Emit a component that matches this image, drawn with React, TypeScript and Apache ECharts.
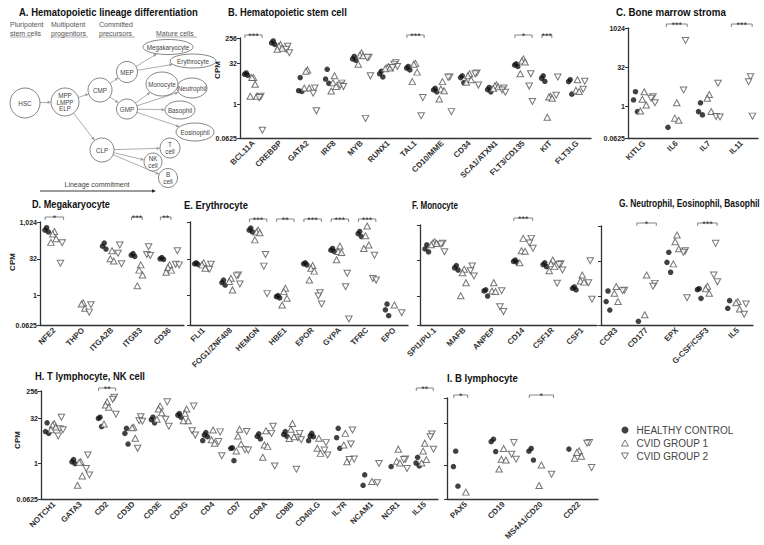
import React, { useEffect, useRef } from "react";
import * as echarts from "echarts";

const FONT = 'Arial, "Liberation Sans", Helvetica, sans-serif';
const GROUP_NAMES = ["HEALTHY CONTROL", "CVID GROUP 1", "CVID GROUP 2"];

// ---------- B. Hematopoietic stem cell ----------
const bCats = ["BCL11A", "CREBBP", "GATA2", "IRF8", "MYB", "RUNX1", "TAL1", "CD10/MME", "CD34", "SCA1/ATXN1", "FLT3/CD135", "KIT", "FLT3LG"];
const bHealthy = [[14, 12.5, 11.5], [200, 170, 150], [9.5, 3.2, 3.0], [19, 8.4, 5.9], [55, 45, 40], [16, 13, 10], [24, 21, 18], [3.9, 3.4, 2.9], [11, 9.5, 6.2], [4.2, 3.5, 2.9], [30, 27, 24], [11, 9, 7], [8, 6.8, 2.4]];
const bGroup1 = [[9.5, 9.5, 5.5, 2, 2], [150, 130, 110, 100], [18, 16, 4, 4], [11, 6.2, 4.5, 3.1], [75, 62, 58, 29], [24, 22, 21, 20], [31, 29, 15, 6.8], [6.8, 3.7, 3.2, 1.6], [13, 11, 8, 6.5], [5.2, 4.8, 4.4, 3.8], [45, 38, 35, 13], [2, 1.9, 1.7, 0.35], [8, 3.3, 3]];
const bGroup2 = [[2, 1.8, 0.12], [130, 100, 75], [4, 2.6, 0.6], [6, 5, 4.5], [52, 50, 11, 0.32], [33, 29, 24, 22], [1.8, 0.4], [10, 9.7, 0.56], [14, 13, 5.1], [4, 3.4, 2.8], [13, 4.7, 1.3], [10, 2.2], [7, 3.6]];
const bSig = [{ cat: "BCL11A", stars: "***", from: 0, to: 2 }, { cat: "TAL1", stars: "***", from: 0, to: 2 }, { cat: "FLT3/CD135", stars: "*", from: 0, to: 2 }, { cat: "KIT", stars: "***", from: 0, to: 1 }];

// ---------- C. Bone marrow stroma ----------
const cCats = ["KITLG", "IL6", "IL7", "IL11"];
const cHealthy = [[3.7, 1.8, 0.64], [0.16], [1.4, 0.64, 0.48], []];
const cGroup1 = [[3.7, 1.9, 1.15, 0.68], [1.4, 0.36, 0.3], [2.9, 2.1, 0.65], []];
const cGroup2 = [[2.4, 2.1, 1.4], [340, 4.3], [7.8, 0.42, 0.4], [14, 9, 0.43]];
const cSig = [{ cat: "IL6", stars: "***", from: 0, to: 2 }, { cat: "IL11", stars: "***", from: 0, to: 2 }];

// ---------- D. Megakaryocyte ----------
const dCats = ["NFE2", "THPO", "ITGA2B", "ITGB3", "CD36"];
const dHealthy = [[600, 480, 400], [], [140, 105, 80], [52, 45, 40], [36, 32, 30]];
const dGroup1 = [[420, 330, 210, 150], [0.5, 0.45, 0.3], [68, 32, 26], [18, 11, 7, 2.5], [18, 14, 11, 9]];
const dGroup2 = [[145, 21], [0.42, 0.21], [117, 54, 20], [100, 48, 44], [68, 19, 18]];
const dSig = [{ cat: "NFE2", stars: "*", from: 0, to: 2 }, { cat: "ITGB3", stars: "***", from: 0, to: 1 }, { cat: "CD36", stars: "**", from: 0, to: 1 }];

// ---------- E. Erythrocyte ----------
const eCats = ["FLI1", "FOG1/ZNF408", "HEMGN", "HBE1", "EPOR", "GYPA", "TFRC", "EPO"];
const eHealthy = [[22, 20, 19], [4.3, 3.4, 2.7], [580, 480, 400], [1.0, 0.9, 0.8], [22, 20, 18], [85, 72, 64], [420, 340, 260], [0.45, 0.26, 0.15]];
const eGroup1 = [[22, 18, 13], [5.1, 3.8, 1.7], [480, 400, 370, 190], [2.0, 1.45, 0.77, 0.41], [17, 13, 10, 4.3], [107, 64, 58, 29], [700, 280, 117, 85], [0.41]];
const eGroup2 = [[19, 12], [7, 6.4, 3], [48, 16, 1.2], [], [1.3, 0.97, 0.45], [8.2, 2.3, 0.11], [45, 5, 4.3], [0.2]];
const eSig = [{ cat: "HEMGN", stars: "***", from: 0, to: 2 }, { cat: "HBE1", stars: "**", from: 0, to: 2 }, { cat: "EPOR", stars: "***", from: 0, to: 2 }, { cat: "GYPA", stars: "***", from: 0, to: 2 }, { cat: "TFRC", stars: "***", from: 0, to: 2 }];

// ---------- F. Monocyte ----------
const fCats = ["SPI1/PU.1", "MAFB", "ANPEP", "CD14", "CSF1R", "CSF1"];
const fHealthy = [[150, 100, 75], [20, 16, 13], [1.9, 1.7, 1.04], [34, 30, 27], [26, 22, 18], [2.5, 2.2, 1.9]];
const fGroup1 = [[200, 180, 170, 150], [14, 10, 3.8, 1.07], [3.8, 1.7, 1.6], [280, 84, 80, 26], [34, 24, 18, 12], [8, 4.5, 4]];
const fGroup2 = [[175, 160, 77], [19, 12, 7.3], [1.75, 0.37, 0.23], [280, 180, 107], [24, 22, 13, 3.6], [32, 3.8, 0.76]];
const fSig = [{ cat: "CD14", stars: "***", from: 0, to: 2 }];

// ---------- G. Neutrophil, Eosinophil, Basophil ----------
const gCats = ["CCR3", "CD177", "EPX", "G-CSF/CSF3", "IL5"];
const gHealthy = [[1.75, 0.62, 0.27], [0.09], [78, 29, 11], [2.2, 2.0, 0.85], [0.68, 0.32]];
const gGroup1 = [[2.7, 1.4, 0.62], [8.4, 0.17], [425, 220, 110, 25], [2.8, 2.2, 1.4], [0.62, 0.55, 0.3]];
const gGroup2 = [[1.9, 1.8], [3.7, 2.8], [90, 78, 0.9], [187, 8.4, 4.3], [0.49, 0.18]];
const gSig = [{ cat: "CD177", stars: "*", from: 0, to: 2 }, { cat: "G-CSF/CSF3", stars: "***", from: 0, to: 2 }];

// ---------- H. T lymphocyte, NK cell ----------
const hCats = ["NOTCH1", "GATA3", "CD2", "CD3D", "CD3E", "CD3G", "CD4", "CD7", "CD8A", "CD8B", "CD40LG", "IL7R", "NCAM1", "NCR1", "IL15"];
const hHealthy = [[22, 11.3, 9.8], [1.3, 1.1, 0.95], [34, 31, 16.5], [14.4, 9.8, 4.3], [34, 28, 22], [45, 40, 34], [10.4, 8.6, 7.6, 5.6], [3.2, 3.1, 1.2], [9.5, 7.8, 6.4], [11.3, 9, 7.8], [9.8, 8, 7.6, 5.6], [14.4, 7, 3.1], [0.4, 0.18], [0.76], [1.55, 1.0, 0.8]];
const hGroup1 = [[21, 18.6, 16, 13], [1.1, 1.05, 0.37, 0.18], [111, 87, 73, 20], [15.6, 15, 6.7], [80, 64, 48, 29], [64, 46, 26, 26], [12.7, 6, 4.6], [13.4, 8, 4.3, 2.5], [12, 4, 3.6, 1.55], [21, 13.4, 7.6, 6.6], [6.7, 3.1, 2.1], [9.8, 4, 1.1], [0.24], [2.9, 1.15, 1.0], [4.6, 2.5, 1.3, 1.0]];
const hGroup2 = [[34, 14, 13, 8], [1.85, 0.66, 0.4], [158, 135, 43], [35, 26, 25, 3.1], [111, 29, 17], [80, 12, 8.6], [11, 5.2, 1.76], [11.3, 2.8, 2.7], [17, 9.8, 0.8], [9.8, 7, 6, 0.62], [4.8, 2.7, 1.85], [12.7, 4.3, 1.35, 1.3], [0.97, 0.22], [1.35, 1.3, 0.66], [9.3, 7.6, 2.9]];
const hSig = [{ cat: "CD2", stars: "**", from: 0, to: 2 }, { cat: "IL15", stars: "**", from: 0, to: 2 }];

// ---------- I. B lymphocyte ----------
const iCats = ["PAX5", "CD19", "MS4A1/CD20", "CD22"];
const iHealthy = [[3.2, 0.9, 0.18], [8.6, 7, 3.1], [4, 3.2, 1.55], [3.8]];
const iGroup1 = [[0.11], [4, 1.65, 1.55, 0.74], [1.03, 0.19], [3.3, 2.9, 2.1, 1.8]];
const iGroup2 = [[], [6.5, 2.5, 1.65], [0.48], [6.5, 6.2, 0.83]];
const iSig = [{ cat: "PAX5", stars: "*", from: 0, to: 1 }, { cat: "MS4A1/CD20", stars: "*", from: 0, to: 2 }];

// ---------- axis ticks ----------
const ticks256 = [0.0625, 1, 32, 256];
const ticks1024 = [0.0625, 1, 32, 1024];
const labels256 = ["0.0625", "1", "32", "256"];
const labels1024 = ["0.0625", "1", "32", "1024"];
const labels1024c = ["0.0625", "1", "32", "1,024"];

// ---------- layout ----------
const AXIS = "#333";
const GROUP_OFFSET = [-0.27, 0, 0.27];
const JITTER = [0, -0.06, 0.06, -0.12, 0.12];
const TRI_DOWN = "path://M0,0L10,0L5,8.7Z";
const TRI_UP = "path://M5,0L10,8.7L0,8.7Z";

const PANELS = [
  { cats: bCats, groups: [bHealthy, bGroup1, bGroup2], sig: bSig, box: [240, 38, 351, 100], ticks: ticks256, labels: labels256, lift: 3 },
  { cats: cCats, groups: [cHealthy, cGroup1, cGroup2], sig: cSig, box: [628, 28, 130, 110], ticks: ticks1024, labels: labels1024, lift: 4 },
  { cats: dCats, groups: [dHealthy, dGroup1, dGroup2], sig: dSig, box: [40, 222, 144, 103], ticks: ticks1024, labels: labels1024c, lift: 5 },
  { cats: eCats, groups: [eHealthy, eGroup1, eGroup2], sig: eSig, box: [190, 222, 218, 103], ticks: ticks1024, labels: null, lift: 3 },
  { cats: fCats, groups: [fHealthy, fGroup1, fGroup2], sig: fSig, box: [420, 225, 177, 100], ticks: ticks1024, labels: null, lift: 7 },
  { cats: gCats, groups: [gHealthy, gGroup1, gGroup2], sig: gSig, box: [601, 226, 152, 99], ticks: ticks1024, labels: null, lift: 3 },
  { cats: hCats, groups: [hHealthy, hGroup1, hGroup2], sig: hSig, box: [41, 391, 397, 108], ticks: ticks256, labels: labels256, lift: 3 },
  { cats: iCats, groups: [iHealthy, iGroup1, iGroup2], sig: iSig, box: [447, 398, 151, 101], ticks: ticks256, labels: null, lift: 3 },
];

const HOLLOW = { color: "#fff", borderColor: "#555", borderWidth: 1 };
const SYMBOLS: any[] = [
  { symbol: "circle", symbolSize: 5.5, itemStyle: { color: "#111" } },
  { symbol: TRI_UP, symbolSize: [6.5, 6], itemStyle: HOLLOW },
  { symbol: TRI_DOWN, symbolSize: [6.5, 6], itemStyle: HOLLOW },
];
const LEGEND_ITEMS = [
  { name: GROUP_NAMES[0], icon: "circle", itemStyle: { color: "#111", borderWidth: 0 } },
  { name: GROUP_NAMES[1], icon: TRI_UP, itemStyle: HOLLOW },
  { name: GROUP_NAMES[2], icon: TRI_DOWN, itemStyle: HOLLOW },
];

const TITLES = [
  { text: "A. Hematopoietic lineage differentiation", x: 19, y: 12, w: 179 },
  { text: "B. Hematopoietic stem cell", x: 228, y: 12, w: 119 },
  { text: "C. Bone marrow stroma", x: 616, y: 12, w: 110 },
  { text: "D. Megakaryocyte", x: 32, y: 204, w: 78 },
  { text: "E. Erythrocyte", x: 184, y: 205, w: 64 },
  { text: "F. Monocyte", x: 412, y: 205, w: 46 },
  { text: "G. Neutrophil, Eosinophil, Basophil", x: 619, y: 203, w: 141 },
  { text: "H. T lymphocyte, NK cell", x: 35, y: 376, w: 110 },
  { text: "I. B lymphocyte", x: 447, y: 378, w: 71 },
];
const CPM_LABELS = [
  { x: 217, y: 70 },
  { x: 12, y: 262 },
  { x: 17, y: 440 },
];

// ---------- panel A diagram ----------
const NODES: Record<string, any> = {
  HSC: { x: 25, y: 103, rx: 15, ry: 15, label: "HSC" },
  MPP: { x: 65, y: 102, rx: 14, ry: 14, label: "MPP\nLMPP\nELP" },
  CMP: { x: 100, y: 90, rx: 12, ry: 12, label: "CMP" },
  MEP: { x: 127, y: 72, rx: 10.5, ry: 10.5, label: "MEP" },
  GMP: { x: 127, y: 109, rx: 10.5, ry: 10, label: "GMP" },
  CLP: { x: 102, y: 150, rx: 12, ry: 12, label: "CLP" },
  MEG: { x: 168, y: 47, rx: 25, ry: 7.5, label: "Megakaryocyte" },
  ERY: { x: 193, y: 61, rx: 23, ry: 7, label: "Erythrocyte" },
  NEU: { x: 192, y: 88, rx: 15, ry: 10, label: "Neutrophil" },
  MONO: { x: 162, y: 84, rx: 16, ry: 12, label: "Monocyte" },
  BASO: { x: 180, y: 110, rx: 15, ry: 9, label: "Basophil" },
  EOS: { x: 195, y: 132, rx: 19, ry: 9, label: "Eosinophil" },
  T: { x: 170, y: 148, rx: 10, ry: 10, label: "T\ncell" },
  NK: { x: 153, y: 162, rx: 9, ry: 9, label: "NK\ncell" },
  B: { x: 168, y: 178, rx: 9.5, ry: 9.5, label: "B\ncell" },
};
const EDGES = [["HSC", "MPP"], ["MPP", "CMP"], ["MPP", "CLP"], ["CMP", "MEP"], ["CMP", "GMP"], ["MEP", "MEG"], ["MEP", "ERY"], ["GMP", "MONO"], ["GMP", "NEU"], ["GMP", "BASO"], ["GMP", "EOS"], ["CLP", "T"], ["CLP", "NK"], ["CLP", "B"]];
const HEADINGS = [
  { l1: "Pluripotent", l2: "stem cells", x: 10, w: 22 },
  { l1: "Multipotent", l2: "progenitors", x: 51, w: 37 },
  { l1: "Committed", l2: "precursors", x: 99, w: 36 },
  { l1: "", l2: "Mature cells", x: 156, w: 41 },
];

function fitScale(text: string, font: string, target: number) {
  const ctx = document.createElement("canvas").getContext("2d");
  if (!ctx) return 1;
  ctx.font = font;
  const w = ctx.measureText(text).width;
  return w > 0 ? target / w : 1;
}

function edgePoint(n: any, dx: number, dy: number) {
  const t = 1 / Math.sqrt((dx / n.rx) ** 2 + (dy / n.ry) ** 2);
  return [n.x + dx * t, n.y + dy * t];
}

function arrow(p0: number[], p1: number[], color: string, width: number, head = 4, half = 1.8) {
  const dx = p1[0] - p0[0], dy = p1[1] - p0[1];
  const len = Math.sqrt(dx * dx + dy * dy);
  const ux = dx / len, uy = dy / len;
  const bx = p1[0] - ux * head, by = p1[1] - uy * head;
  return [
    { type: "line", shape: { x1: p0[0], y1: p0[1], x2: bx, y2: by }, style: { stroke: color, lineWidth: width }, silent: true },
    { type: "polygon", shape: { points: [p1, [bx - uy * half, by + ux * half], [bx + uy * half, by - ux * half]] }, style: { fill: color }, silent: true },
  ];
}

function buildGraphic() {
  const g: any[] = [];
  const titleFont = "bold 11px Arial, 'Liberation Sans', sans-serif";
  TITLES.forEach((t) => {
    g.push({ type: "text", x: t.x, y: t.y, scaleX: fitScale(t.text, titleFont, t.w), silent: true,
      style: { text: t.text, x: 0, y: 0, align: "left", verticalAlign: "middle", font: titleFont, fill: "#111" } });
  });
  CPM_LABELS.forEach((c) => {
    g.push({ type: "text", x: c.x, y: c.y, rotation: Math.PI / 2, silent: true,
      style: { text: "CPM", x: 0, y: 0, align: "center", verticalAlign: "middle", fontSize: 8, fontFamily: FONT, fontWeight: "bold", fill: "#222" } });
  });
  HEADINGS.forEach((h) => {
    if (h.l1) g.push({ type: "text", x: h.x, y: 24, silent: true, style: { text: h.l1, align: "left", verticalAlign: "middle", fontSize: 7, fontFamily: FONT, fill: "#555" } });
    g.push({ type: "text", x: h.x, y: 33, silent: true, style: { text: h.l2, align: "left", verticalAlign: "middle", fontSize: 7, fontFamily: FONT, fill: "#555" } });
    g.push({ type: "line", shape: { x1: h.x, y1: 37, x2: h.x + h.w, y2: 37 }, style: { stroke: "#777", lineWidth: 0.6 }, silent: true });
  });
  EDGES.forEach(([s, d]) => {
    const a = NODES[s], b = NODES[d];
    const dx = b.x - a.x, dy = b.y - a.y;
    const p0 = edgePoint(a, dx, dy);
    const p1 = edgePoint(b, -dx, -dy);
    g.push(...arrow(p0, p1, "#999", 0.8, 3.5, 1.6));
  });
  Object.keys(NODES).forEach((k) => {
    const n = NODES[k];
    g.push({ type: "ellipse", shape: { cx: n.x, cy: n.y, rx: n.rx, ry: n.ry }, style: { fill: "#fff", stroke: "#666", lineWidth: 0.8 }, silent: true });
    g.push({ type: "text", x: n.x, y: n.y, silent: true,
      style: { text: n.label, align: "center", verticalAlign: "middle", fontSize: 6.3, lineHeight: 6.8, fontFamily: FONT, fill: "#444" } });
  });
  g.push(...arrow([40, 191], [156, 191], "#222", 0.9, 4, 1.8));
  g.push({ type: "text", x: 97, y: 184, silent: true, style: { text: "Lineage commitment", align: "center", verticalAlign: "middle", fontSize: 7, fontFamily: FONT, fill: "#444" } });
  return g;
}

function buildOption() {
  const grid: any[] = [], xAxis: any[] = [], yAxis: any[] = [], series: any[] = [];
  PANELS.forEach((p, pi) => {
    const [left, top, width, height] = p.box;
    const n = p.cats.length;
    grid.push({ left, top, width, height, containLabel: false, outerBoundsMode: "none" });
    xAxis.push({
      type: "category", gridIndex: pi, data: p.cats, position: "bottom", boundaryGap: true,
      axisLine: { onZero: false, lineStyle: { color: AXIS, width: 1.3 } },
      axisTick: { alignWithLabel: true, length: 3, lineStyle: { color: AXIS, width: 1 } },
      axisLabel: { interval: 0, rotate: 45, fontSize: 8, fontWeight: "bold", color: "#333", margin: 4, fontFamily: FONT },
      splitLine: { show: false },
    });
    xAxis.push({ type: "value", gridIndex: pi, min: -0.5, max: n - 0.5, show: false, splitLine: { show: false } });
    const tickExp = p.ticks.map((t) => Math.log2(t));
    const labels = p.labels;
    yAxis.push({
      type: "value", gridIndex: pi, min: tickExp[0], max: tickExp[tickExp.length - 1],
      axisLine: { show: true, onZero: false, lineStyle: { color: AXIS, width: 1.3 } },
      axisTick: { show: true, length: 3, customValues: tickExp, lineStyle: { color: AXIS, width: 1 } },
      axisLabel: {
        show: !!labels, customValues: tickExp, fontSize: 7, fontWeight: "bold", color: "#222", margin: 3, fontFamily: FONT,
        formatter: (v: number) => {
          if (!labels) return "";
          let best = 0;
          tickExp.forEach((e, i) => { if (Math.abs(e - v) < Math.abs(tickExp[best] - v)) best = i; });
          return labels[best];
        },
      },
      splitLine: { show: false },
    });
    const xi = pi * 2 + 1;
    p.groups.forEach((grp, gi) => {
      const data: number[][] = [];
      grp.forEach((vals, ci) => vals.forEach((v, j) => data.push([ci + GROUP_OFFSET[gi] + JITTER[j % JITTER.length], Math.log2(v)])));
      series.push({ type: "scatter", name: GROUP_NAMES[gi], xAxisIndex: xi, yAxisIndex: pi, data, z: 3 + gi, ...SYMBOLS[gi] });
    });
    const topExp = tickExp[tickExp.length - 1];
    const sig = p.sig;
    const lift = p.lift;
    series.push({
      type: "custom", xAxisIndex: xi, yAxisIndex: pi, silent: true, clip: false,
      data: sig.map((s) => {
        const ci = p.cats.indexOf(s.cat);
        return [ci + GROUP_OFFSET[s.from] - 0.05, topExp, ci + GROUP_OFFSET[s.to] + 0.05];
      }),
      renderItem: (params: any, api: any) => {
        const s = sig[params.dataIndex];
        const a = api.coord([api.value(0), api.value(1)]);
        const b = api.coord([api.value(2), api.value(1)]);
        const y = a[1] - lift;
        return {
          type: "group",
          children: [
            { type: "polyline", shape: { points: [[a[0], y + 3], [a[0], y], [b[0], y], [b[0], y + 3]] }, style: { stroke: "#666", fill: null, lineWidth: 0.8 } },
            { type: "text", style: { text: s.stars, x: (a[0] + b[0]) / 2, y: y + 1, align: "center", verticalAlign: "middle", fontSize: 9, fontFamily: FONT, fill: "#333" } },
          ],
        };
      },
    });
  });
  return {
    animation: false,
    backgroundColor: "#fff",
    grid, xAxis, yAxis, series,
    legend: {
      data: LEGEND_ITEMS, orient: "vertical", left: 616, top: 420, itemWidth: 7, itemHeight: 7, itemGap: 3,
      symbolKeepAspect: true, selectedMode: false,
      textStyle: { fontSize: 10, color: "#444", fontFamily: FONT, padding: [0, 0, 0, 3] },
    },
    graphic: buildGraphic(),
  };
}

export default function App() {
  const ref = useRef<HTMLDivElement>(null);
  useEffect(() => {
    if (!ref.current) return;
    const chart = echarts.init(ref.current, null, { renderer: "svg" });
    chart.setOption(buildOption() as any);
    return () => chart.dispose();
  }, []);
  return <div ref={ref} style={{ position: "absolute", left: 0, top: 0, width: 764, height: 545, background: "#fff" }} />;
}
